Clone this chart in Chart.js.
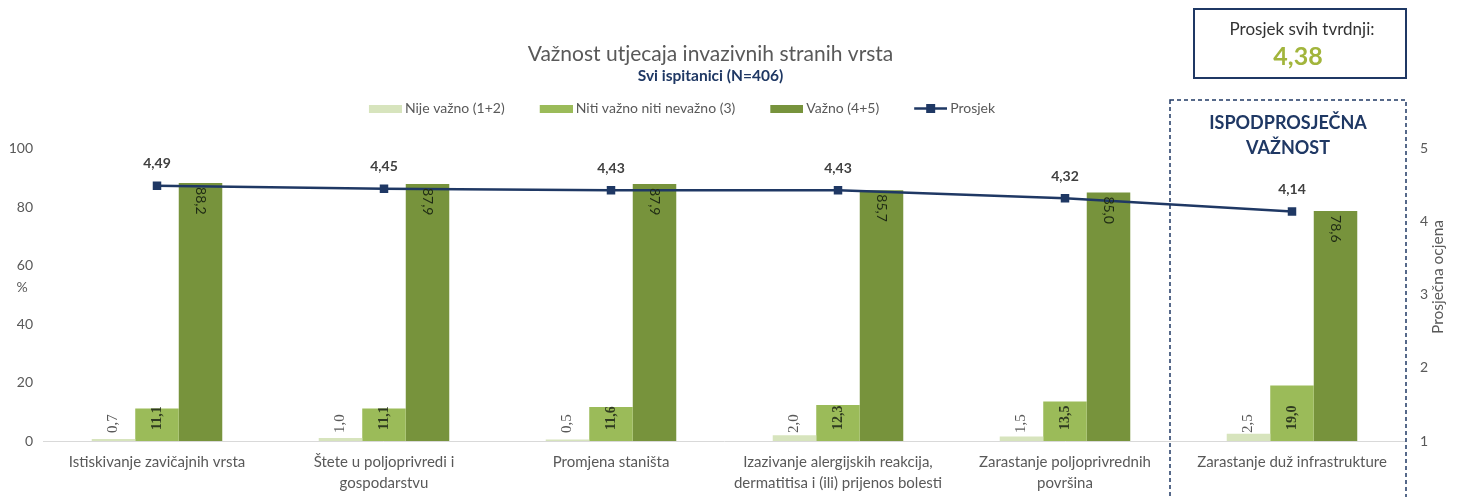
<!DOCTYPE html>
<html>
<head>
<meta charset="utf-8">
<script src="https://cdn.jsdelivr.net/npm/chart.js@4.4.1/dist/chart.umd.min.js"></script>
<style>
  html, body { margin: 0; padding: 0; background: #fff; }
  #wrap { width: 1459px; height: 497px; position: relative; }
</style>
</head>
<body>
<div id="wrap"><canvas id="chart" width="1459" height="497"></canvas></div>
<script>
// podaci
const categories = [
  'Istiskivanje zavičajnih vrsta',
  ['Štete u poljoprivredi i', 'gospodarstvu'],
  'Promjena staništa',
  ['Izazivanje alergijskih reakcija,', 'dermatitisa i (ili) prijenos bolesti'],
  ['Zarastanje poljoprivrednih', 'površina'],
  'Zarastanje duž infrastrukture'
];
const nijeVazno = [0.7, 1.0, 0.5, 2.0, 1.5, 2.5];
const nitiNiti = [11.1, 11.1, 11.6, 12.3, 13.5, 19.0];
const vazno = [88.2, 87.9, 87.9, 85.7, 85.0, 78.6];
const prosjek = [4.49, 4.45, 4.43, 4.43, 4.32, 4.14];
const seriesNames = ['Nije važno (1+2)', 'Niti važno niti nevažno (3)', 'Važno (4+5)', 'Prosjek'];
const leftTicks = [0, 20, 40, 60, 80, 100];
const rightTicks = [1, 2, 3, 4, 5];
const prosjekSvih = '4,38';

const FONT = 'Lato, "Open Sans", sans-serif';
const GREY = '#595959';
const NAVY = '#1f3864';
const C_LIGHT = '#d7e4bd', C_MID = '#9bbb59', C_DARK = '#77933c';

const fmt = v => v.toFixed(1).replace('.', ',');
const fmt2 = v => v.toFixed(2).replace('.', ',');

// sličice za legendu (lijevi dio prozirni - razmak izmedju stavki)
function swatch(color) {
  const c = document.createElement('canvas');
  c.width = 54; c.height = 9;
  const g = c.getContext('2d');
  g.fillStyle = color;
  g.fillRect(21, 1, 33, 8);
  return c;
}
function lineSwatch() {
  const c = document.createElement('canvas');
  c.width = 54; c.height = 11;
  const g = c.getContext('2d');
  g.strokeStyle = NAVY; g.lineWidth = 2.5;
  g.beginPath(); g.moveTo(21, 5.5); g.lineTo(54, 5.5); g.stroke();
  g.fillStyle = NAVY;
  g.fillRect(33, 1, 9, 9);
  return c;
}

// pomak legende i naslova, dodatni razmak ispod legende
const layoutTweaks = {
  id: 'layoutTweaks',
  beforeInit(chart) {
    const fit = chart.legend.fit;
    chart.legend.fit = function () {
      fit.bind(chart.legend)();
      this.height += 23;
    };
  },
  beforeDraw(chart) {
    const shift = (box, d) => { if (box) { box.left += d; box.right += d; } };
    shift(chart.legend, -56);
    shift(chart.titleBlock, -19);
    const sub = chart.boxes.find(b => b !== chart.titleBlock && b.options && b.options.text === 'Svi ispitanici (N=406)');
    shift(sub, -19);
  }
};

// oznake vrijednosti i dodatni tekstovi
const extras = {
  id: 'extras',
  afterDatasetsDraw(chart) {
    const ctx = chart.ctx;
    ctx.save();
    // stupci
    [0, 1, 2].forEach(di => {
      const meta = chart.getDatasetMeta(di);
      const data = chart.data.datasets[di].data;
      meta.data.forEach((bar, i) => {
        const txt = fmt(data[i]);
        ctx.save();
        ctx.textBaseline = 'middle';
        if (di === 0) {
          ctx.translate(bar.x, bar.base);
          ctx.rotate(-Math.PI / 2);
          ctx.font = '15px "Liberation Serif", serif';
          ctx.fillStyle = GREY;
          ctx.textAlign = 'left';
          ctx.fillText(txt, 8, 0);
        } else if (di === 1) {
          ctx.translate(bar.x, bar.base);
          ctx.rotate(-Math.PI / 2);
          ctx.font = 'bold 14px "Liberation Serif", serif';
          ctx.fillStyle = '#2f3b20';
          ctx.textAlign = 'left';
          ctx.fillText(txt, 11, 0);
        } else {
          ctx.translate(bar.x, bar.y);
          ctx.rotate(Math.PI / 2);
          ctx.font = '14px ' + FONT;
          ctx.fillStyle = '#1e2a14';
          ctx.textAlign = 'left';
          ctx.fillText(txt, 4, 0);
        }
        ctx.restore();
      });
    });
    // prosjek
    const lm = chart.getDatasetMeta(3);
    ctx.font = 'bold 14px ' + FONT;
    ctx.fillStyle = '#404040';
    ctx.textAlign = 'center'; ctx.textBaseline = 'middle';
    lm.data.forEach((p, i) => ctx.fillText(fmt2(prosjek[i]), p.x, p.y - 22));
    ctx.restore();
  },
  afterDraw(chart) {
    const ctx = chart.ctx;
    ctx.save();
    // oznake osi
    ctx.font = '14px ' + FONT;
    ctx.fillStyle = GREY;
    ctx.textAlign = 'center'; ctx.textBaseline = 'middle';
    ctx.fillText('%', 22, 287);
    ctx.save();
    ctx.translate(1438, 277);
    ctx.rotate(-Math.PI / 2);
    ctx.font = '15.5px ' + FONT;
    ctx.fillText('Prosječna ocjena', 0, 0);
    ctx.restore();

    // okvir prosjeka
    ctx.strokeStyle = NAVY; ctx.lineWidth = 2;
    ctx.strokeRect(1194, 9, 212, 69);
    ctx.fillStyle = '#333';
    ctx.font = '17px ' + FONT;
    ctx.fillText('Prosjek svih tvrdnji:', 1302, 30);
    ctx.fillStyle = '#a2b53c';
    ctx.font = 'bold 25px ' + FONT;
    ctx.fillText(prosjekSvih, 1298, 57);

    // isprekidani okvir
    ctx.setLineDash([4, 3]);
    ctx.lineWidth = 1.5;
    ctx.strokeRect(1170, 100, 236, 410);
    ctx.setLineDash([]);
    ctx.fillStyle = NAVY;
    ctx.font = 'bold 18px ' + FONT;
    ctx.fillText('ISPODPROSJEČNA', 1288, 123);
    ctx.fillText('VAŽNOST', 1288, 148);
    ctx.restore();
  }
};

const ctx = document.getElementById('chart').getContext('2d');
new Chart(ctx, {
  type: 'bar',
  data: {
    labels: categories,
    datasets: [
      { label: seriesNames[0], data: nijeVazno, backgroundColor: C_LIGHT, yAxisID: 'y', order: 2, pointStyle: swatch(C_LIGHT) },
      { label: seriesNames[1], data: nitiNiti, backgroundColor: C_MID, yAxisID: 'y', order: 2, pointStyle: swatch(C_MID) },
      { label: seriesNames[2], data: vazno, backgroundColor: C_DARK, yAxisID: 'y', order: 2, pointStyle: swatch(C_DARK) },
      { type: 'line', label: seriesNames[3], data: prosjek, yAxisID: 'y1', order: 1,
        borderColor: NAVY, backgroundColor: NAVY, borderWidth: 2.5,
        pointStyle: 'rect', pointRadius: 6, pointBorderWidth: 0, pointBackgroundColor: NAVY }
    ]
  },
  options: {
    responsive: false,
    animation: false,
    events: [],
    layout: { padding: { top: 0, left: 0, right: 0, bottom: 0 } },
    datasets: { bar: { categoryPercentage: 0.575, barPercentage: 1 } },
    plugins: {
      title: { display: true, text: 'Važnost utjecaja invazivnih stranih vrsta', color: GREY,
               font: { family: FONT, size: 21, weight: 'normal', lineHeight: 1 }, padding: { top: 44, bottom: 0 } },
      subtitle: { display: true, text: 'Svi ispitanici (N=406)', color: NAVY,
                  font: { family: FONT, size: 15.5, weight: 'bold', lineHeight: 1 }, padding: { top: 3, bottom: 0 } },
      legend: {
        display: true,
        labels: {
          usePointStyle: true, pointStyleWidth: 46, padding: 18,
          color: GREY, font: { family: FONT, size: 14 },
          sort: (a, b) => a.datasetIndex - b.datasetIndex,
          generateLabels(chart) {
            return chart.data.datasets.map((ds, i) => ({
              text: ds.label,
              pointStyle: i === 3 ? lineSwatch() : ds.pointStyle,
              fillStyle: ds.backgroundColor, strokeStyle: 'transparent', lineWidth: 0,
              fontColor: GREY, datasetIndex: i, hidden: false
            }));
          }
        }
      },
      tooltip: { enabled: false }
    },
    scales: {
      x: {
        grid: { display: false },
        border: { display: true, color: '#d9d9d9', width: 1 },
        ticks: { color: GREY, font: { family: FONT, size: 15, lineHeight: 1.4 }, maxRotation: 0, autoSkip: false, padding: 2.5 },
        afterFit(s) { s.height = 56; }
      },
      y: {
        position: 'left', min: 0, max: 100,
        afterBuildTicks(s) { s.ticks = leftTicks.map(v => ({ value: v })); },
        grid: { display: false }, border: { display: false },
        ticks: { color: GREY, font: { family: FONT, size: 14 }, padding: 2.5 },
        afterFit(s) { s.width = 43.5; }
      },
      y1: {
        position: 'right', min: 1, max: 5,
        afterBuildTicks(s) { s.ticks = rightTicks.map(v => ({ value: v })); },
        grid: { display: false }, border: { display: false },
        ticks: { color: GREY, font: { family: FONT, size: 14 }, padding: 6.5 },
        afterFit(s) { s.width = 53.5; }
      }
    }
  },
  plugins: [layoutTweaks, extras]
});
</script>
</body>
</html>
